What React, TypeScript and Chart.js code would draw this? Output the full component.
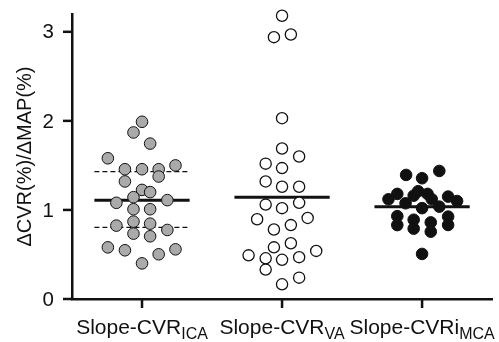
import React, { useEffect, useRef } from 'react';
import { Chart, registerables } from 'chart.js';

Chart.register(...registerables);

// ---- data ----
const groupLabels = ['Slope-CVR', 'Slope-CVR', 'Slope-CVRi'];
const groupSubscripts = ['ICA', 'VA', 'MCA'];
const groupPositions = [1, 2, 3];
const yTicks = [0, 1, 2, 3];
const yTitle = 'ΔCVR(%)/ΔMAP(%)';

const icaValues = [1.99, 1.87, 1.745, 1.58, 1.457, 1.457, 1.457, 1.5, 1.375, 1.32, 1.225, 1.2, 1.143, 1.08, 1.11, 1.008, 1.008, 0.869, 0.846, 0.824, 0.775, 0.734, 0.704, 0.58, 0.547, 0.558, 0.502, 0.4];
const icaJitter = [0, -0.061, 0.058, -0.244, -0.122, 0, 0.119, 0.239, 0.119, -0.122, 0, 0.058, -0.061, -0.183, 0.181, -0.061, 0.058, -0.061, 0.058, -0.183, 0.181, -0.061, 0.058, -0.244, -0.122, 0.239, 0.119, 0];

const vaValues = [3.18, 2.94, 2.97, 2.03, 1.69, 1.6, 1.52, 1.47, 1.32, 1.26, 1.26, 1.06, 1.02, 1.08, 0.895, 0.91, 0.78, 0.83, 0.58, 0.626, 0.49, 0.457, 0.44, 0.47, 0.54, 0.33, 0.165, 0.24];
const vaJitter = [0, -0.058, 0.063, 0, 0, 0.122, -0.117, 0, -0.117, 0, 0.122, -0.117, 0, 0.122, -0.178, 0.183, -0.058, 0.063, -0.058, 0.063, -0.239, -0.117, 0, 0.122, 0.244, -0.117, 0, 0.122];

const mcaValues = [1.393, 1.356, 1.438, 1.12, 1.18, 1.075, 1.16, 1.21, 1.18, 1.12, 1.02, 1.037, 1.15, 1.1, 0.93, 0.83, 0.89, 0.79, 0.86, 0.756, 0.925, 0.831, 0.506];
const mcaJitter = [-0.114, 0, 0.123, -0.24, -0.177, -0.118, -0.06, -0.028, 0.039, 0.069, 0, 0.123, 0.186, 0.25, -0.177, -0.177, -0.06, -0.06, 0.062, 0.062, 0.186, 0.186, 0];

const groupMeans = [1.11, 1.143, 1.037];
const icaSdBand = [0.805, 1.43];

const FONT = '"Liberation Sans", Arial, Helvetica, sans-serif';
const HALF = 0.34;
const TICK = 9;
const INK = '#111';

const toPoints = (vals: number[], jit: number[], g: number) =>
  vals.map((v, i) => ({ x: g + jit[i], y: v }));

const hLine = (g: number, y: number) => [
  { x: g - HALF, y },
  { x: g + HALF, y },
];

const axisDecorPlugin = {
  id: 'axisDecor',
  afterDraw(chart: any) {
    const { ctx, scales, chartArea } = chart;
    const x = scales.x;
    const y = scales.y;
    ctx.save();
    ctx.strokeStyle = INK;
    ctx.fillStyle = INK;
    ctx.lineWidth = 2.5;
    ctx.lineCap = 'butt';
    // y tick marks + labels
    ctx.font = `20.5px ${FONT}`;
    ctx.textAlign = 'right';
    ctx.textBaseline = 'middle';
    yTicks.forEach((v) => {
      const py = y.getPixelForValue(v);
      ctx.beginPath();
      ctx.moveTo(chartArea.left - TICK, py);
      ctx.lineTo(chartArea.left, py);
      ctx.stroke();
      ctx.fillText(String(v), chartArea.left - TICK - 9, py + 1);
    });
    // x tick marks + labels with subscripts
    const mainFont = `21px ${FONT}`;
    const subFont = `16px ${FONT}`;
    const base = chartArea.bottom + 35;
    ctx.textAlign = 'left';
    ctx.textBaseline = 'alphabetic';
    groupPositions.forEach((g, i) => {
      const px = x.getPixelForValue(g);
      ctx.beginPath();
      ctx.moveTo(px, chartArea.bottom);
      ctx.lineTo(px, chartArea.bottom + TICK);
      ctx.stroke();
      const lab = groupLabels[i];
      const sub = groupSubscripts[i];
      ctx.font = mainFont;
      const w1 = ctx.measureText(lab).width;
      ctx.font = subFont;
      const w2 = ctx.measureText(sub).width;
      const start = px - (w1 + w2) / 2;
      ctx.font = mainFont;
      ctx.fillText(lab, start, base);
      ctx.font = subFont;
      ctx.fillText(sub, start + w1, base + 5);
    });
    ctx.restore();
  },
};

export default function App() {
  const ref = useRef<HTMLCanvasElement | null>(null);

  useEffect(() => {
    if (!ref.current) return;
    const lineDs = (data: any[], width: number, dash: number[] = []) => ({
      type: 'line' as const,
      data,
      borderColor: INK,
      borderWidth: width,
      borderDash: dash,
      pointRadius: 0,
      showLine: true,
      fill: false,
      clip: false,
    });
    const chart = new Chart(ref.current, {
      type: 'scatter',
      data: {
        datasets: [
          {
            data: toPoints(icaValues, icaJitter, groupPositions[0]),
            backgroundColor: '#aaaaaa',
            borderColor: INK,
            borderWidth: 1,
            pointRadius: 5.8,
            clip: false,
          },
          {
            data: toPoints(vaValues, vaJitter, groupPositions[1]),
            backgroundColor: '#ffffff',
            borderColor: INK,
            borderWidth: 1.3,
            pointRadius: 5.6,
            clip: false,
          },
          {
            data: toPoints(mcaValues, mcaJitter, groupPositions[2]),
            backgroundColor: INK,
            borderColor: INK,
            borderWidth: 1,
            pointRadius: 5.8,
            clip: false,
          },
          lineDs(hLine(groupPositions[0], groupMeans[0]), 3),
          lineDs(hLine(groupPositions[1], groupMeans[1]), 3),
          lineDs(hLine(groupPositions[2], groupMeans[2]), 3),
          lineDs(hLine(groupPositions[0], icaSdBand[0]), 1.3, [5, 3]),
          lineDs(hLine(groupPositions[0], icaSdBand[1]), 1.3, [5, 3]),
        ] as any,
      },
      options: {
        animation: false,
        responsive: false,
        layout: { padding: { top: 14, right: 0, left: 0, bottom: 0 } },
        plugins: { legend: { display: false }, tooltip: { enabled: false } },
        scales: {
          x: {
            type: 'linear',
            min: 0.5,
            max: 3.5,
            afterBuildTicks: (s: any) => {
              s.ticks = groupPositions.map((v) => ({ value: v }));
            },
            afterFit: (s: any) => {
              s.height = 43;
            },
            border: { display: true, color: INK, width: 2.5 },
            grid: { display: false },
            ticks: { display: false },
          },
          y: {
            type: 'linear',
            min: 0,
            max: 3.2,
            afterBuildTicks: (s: any) => {
              s.ticks = yTicks.map((v) => ({ value: v }));
            },
            afterFit: (s: any) => {
              s.width = 72;
            },
            border: { display: true, color: INK, width: 2.5 },
            grid: { display: false },
            ticks: { display: false },
            title: {
              display: true,
              text: yTitle,
              color: INK,
              font: { family: FONT, size: 20 },
              padding: { top: 13, bottom: 0 },
            },
          },
        },
      } as any,
      plugins: [axisDecorPlugin],
    });
    return () => chart.destroy();
  }, []);

  return (
    <div style={{ position: 'absolute', left: 0, top: 0, width: 499, height: 342, background: '#fff' }}>
      <canvas ref={ref} width={499} height={342} style={{ display: 'block' }} />
    </div>
  );
}
